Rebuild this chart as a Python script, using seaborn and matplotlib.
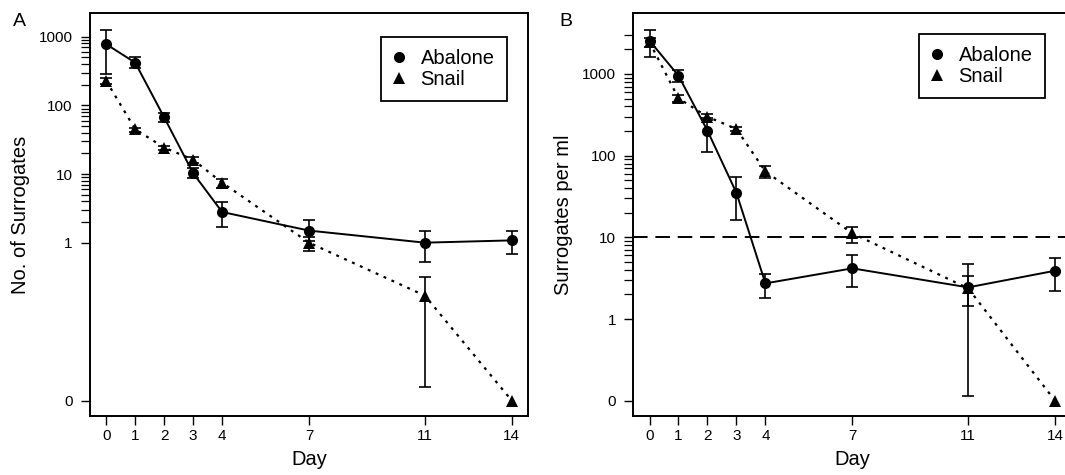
import numpy as np
import pandas as pd
import matplotlib
matplotlib.use("Agg")
import matplotlib.pyplot as plt
from matplotlib.lines import Line2D
from matplotlib.ticker import FixedLocator, NullFormatter
import seaborn as sns

# ── Data ──────────────────────────────────────────────────────────────────────
days = [0, 1, 2, 3, 4, 7, 11, 14]

# Panel A: No. of Surrogates
abalone_a = [780, 420, 67, 10.3, 2.8, 1.5, 1.0, 1.08]
abalone_a_hi = [1260, 500, 77, 12.1, 3.96, 2.12, 1.48, 1.48]
abalone_a_lo = [290, 355, 58, 8.7, 1.71, 1.07, 0.53, 0.68]
snail_a = [228, 45, 24.3, 16.2, 7.5, 1.0, 0.169, 0]
snail_a_hi = [248, 47.5, 25.7, 18, 8.5, 1.2, 0.32, np.nan]
snail_a_lo = [206, 41.6, 22.4, 14.7, 6.3, 0.76, 0.0079, np.nan]

# Panel B: Surrogates per ml
abalone_b = [2550, 950, 202, 35, 2.73, 4.17, 2.44, 3.9]
abalone_b_hi = [3440, 1116, 290, 54, 3.6, 6.0, 4.76, 5.6]
abalone_b_lo = [1600, 803, 112, 16.3, 1.82, 2.44, 1.44, 2.22]
snail_b = [2450, 503, 299, 212, 64, 11.2, 2.37, 0]
snail_b_hi = [2750, 550, 324, 225, 75, 13.5, 3.36, np.nan]
snail_b_lo = [2150, 457, 275, 199, 53, 8.45, 0.115, np.nan]

threshold_b = 10

# ── Style ─────────────────────────────────────────────────────────────────────
sns.set_style("ticks")
plt.rcParams['font.family'] = ['Liberation Sans', 'DejaVu Sans']
plt.rcParams['text.color'] = 'black'
plt.rcParams['axes.labelcolor'] = 'black'
plt.rcParams['axes.linewidth'] = 1.4
plt.rcParams['xtick.major.size'] = 6.5
plt.rcParams['ytick.major.size'] = 6.5
plt.rcParams['ytick.minor.size'] = 6.5
plt.rcParams['xtick.major.width'] = 1.0
plt.rcParams['ytick.major.width'] = 1.0
plt.rcParams['ytick.minor.width'] = 0.9
plt.rcParams['xtick.color'] = 'black'
plt.rcParams['ytick.color'] = 'black'
plt.rcParams['axes.edgecolor'] = 'black'

fig = plt.figure(figsize=(10.65, 4.75), dpi=100)
axA = fig.add_axes([90 / 1065, 59 / 475, 438 / 1065, 402.7 / 475])
axB = fig.add_axes([633.3 / 1065, 59 / 475, 438 / 1065, 402.7 / 475])


def draw_panel(ax, ab, ab_hi, ab_lo, sn, sn_hi, sn_lo, zero_pos, ylim, minor, ylabel):
    ax.set_yscale('log')
    series = [
        ('Abalone', ab, ab_hi, ab_lo, 'o', 8, '-', 1.4),
        ('Snail', sn, sn_hi, sn_lo, '^', 9, (0, (1.3, 2.6)), 1.6),
    ]
    for name, vals, hi, lo, mk, ms, ls, lw in series:
        df = pd.DataFrame({'Day': days, 'val': vals, 'hi': hi, 'lo': lo})
        # zero has no place on a log axis: it sits on the "0" tick
        df['plot'] = df['val'].where(df['val'] > 0, zero_pos)
        sns.lineplot(data=df, x='Day', y='plot', ax=ax, color='black',
                     marker=mk, markersize=ms, markeredgewidth=0,
                     linestyle=ls, linewidth=lw, estimator=None, legend=False)
        e = df.dropna(subset=['hi', 'lo'])
        ax.errorbar(e['Day'], e['plot'],
                    yerr=[e['plot'] - e['lo'], e['hi'] - e['plot']],
                    fmt='none', ecolor='black', elinewidth=1.2,
                    capsize=4.3, capthick=1.2)

    ax.set_xlim(-0.56, 14.56)
    ax.set_ylim(*ylim)
    ax.set_xticks(days)
    ax.set_xticklabels([str(d) for d in days])
    ax.set_yticks([zero_pos, 1, 10, 100, 1000])
    ax.set_yticklabels(['0', '1', '10', '100', '1000'])
    ax.yaxis.set_minor_locator(FixedLocator(minor))
    ax.yaxis.set_minor_formatter(NullFormatter())
    ax.tick_params(axis='x', labelsize=11, pad=2.5)
    ax.tick_params(axis='y', which='both', labelsize=11, pad=6)
    for s in ax.spines.values():
        s.set_visible(True)

    ax.set_xlabel('Day', fontsize=14.5)
    ax.set_ylabel(ylabel, fontsize=14.5)
    ax.xaxis.set_label_coords(0.5, -49 / 402.7)
    ax.xaxis.label.set_verticalalignment('baseline')
    ax.yaxis.set_label_coords(-60 / 438, 0.5)


minor_a = [m * d for d in (1, 10, 100) for m in range(2, 10)]
minor_b = minor_a + [2000, 3000]

draw_panel(axA, abalone_a, abalone_a_hi, abalone_a_lo,
           snail_a, snail_a_hi, snail_a_lo,
           zero_pos=0.005, ylim=(0.00298, 2200), minor=minor_a,
           ylabel='No. of Surrogates')
draw_panel(axB, abalone_b, abalone_b_hi, abalone_b_lo,
           snail_b, snail_b_hi, snail_b_lo,
           zero_pos=0.1, ylim=(0.065, 5520), minor=minor_b,
           ylabel='Surrogates per ml')

axB.axhline(threshold_b, color='black', linewidth=1.4, linestyle=(0, (7.5, 4)))

# ── Legends ───────────────────────────────────────────────────────────────────
handles = [
    Line2D([], [], color='black', marker='o', linestyle='none', markersize=8, markeredgewidth=0),
    Line2D([], [], color='black', marker='^', linestyle='none', markersize=9, markeredgewidth=0),
]
for ax, anchor in ((axA, (0.951, 0.942)), (axB, (0.939, 0.949))):
    leg = ax.legend(handles, ['Abalone', 'Snail'], loc='upper right',
                    bbox_to_anchor=anchor, fontsize=14.5, frameon=True,
                    fancybox=False, framealpha=1, edgecolor='black',
                    borderpad=0.6, labelspacing=0.1, handlelength=0.6,
                    handletextpad=0.75, borderaxespad=0)
    leg.get_frame().set_linewidth(1.3)

fig.text(19.5 / 1065, 1 - 21.5 / 475, 'A', fontsize=14, ha='center', va='center')
fig.text(566 / 1065, 1 - 21.5 / 475, 'B', fontsize=14, ha='center', va='center')

fig.savefig('out.png', dpi=100, facecolor='white')
